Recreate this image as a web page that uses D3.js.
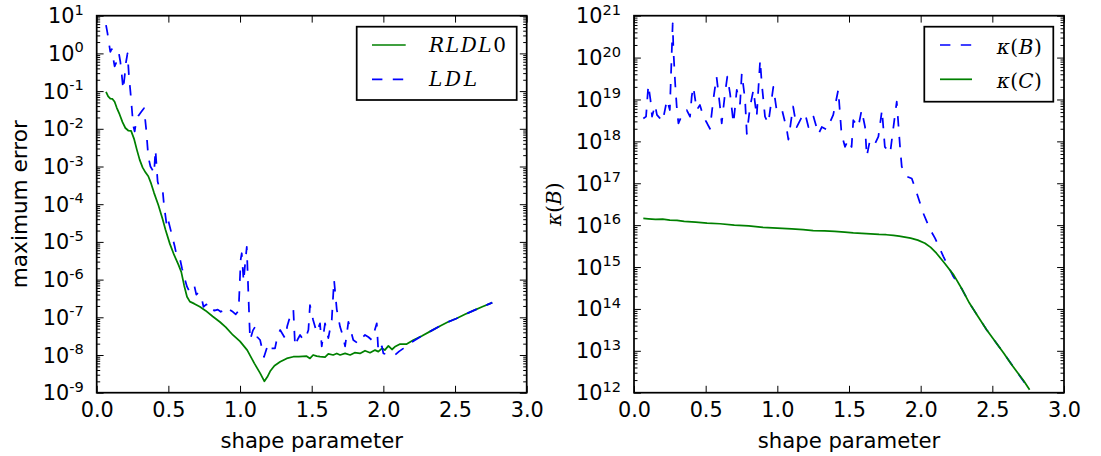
<!DOCTYPE html>
<html><head><meta charset="utf-8">
<script src="https://cdn.jsdelivr.net/npm/d3@7"></script>
<style>
html,body{margin:0;padding:0;background:#fff;}
svg{display:block;}
</style></head>
<body>
<svg id="chart" width="1101" height="456"></svg>
<script>
// ---------------- DATA ----------------
const xTickVals = [0, 0.5, 1, 1.5, 2, 2.5, 3];
const xTickLabels = ["0.0", "0.5", "1.0", "1.5", "2.0", "2.5", "3.0"];
const leftExps = [1, 0, -1, -2, -3, -4, -5, -6, -7, -8, -9];
const rightExps = [21, 20, 19, 18, 17, 16, 15, 14, 13, 12];

// Left panel: RLDL0 (green, solid)
const rldlX = [0.065,0.08,0.095,0.11,0.125,0.14,0.16,0.18,0.20,0.22,0.24,0.26,0.28,0.30,0.32,0.34,0.36,0.38,0.40,0.43,0.46,0.48,0.51,0.54,0.57,0.59,0.61,0.63,0.65,0.68,0.72,0.76,0.81,0.86,0.90,0.95,1.00,1.05,1.10,1.14,1.17,1.19,1.21,1.24,1.28,1.326,1.372,1.41,1.465,1.488,1.51,1.535,1.558,1.593,1.616,1.65,1.675,1.698,1.733,1.768,1.80,1.837,1.872,1.907,1.942,1.965,1.99,2.01,2.035,2.06,2.08,2.117,2.163,2.21,2.268,2.33,2.396,2.45,2.51,2.57,2.628,2.69,2.76];
const rldlY = [9.6e-2,7.2e-2,6.3e-2,6.2e-2,5.2e-2,3.6e-2,2.4e-2,1.5e-2,1.05e-2,9.0e-3,8.8e-3,5.5e-3,2.8e-3,1.5e-3,9.5e-4,7.0e-4,5.5e-4,3.5e-4,2.0e-4,9.5e-5,4.0e-5,2.1e-5,9.0e-6,4.5e-6,2.5e-6,1.6e-6,7.0e-7,3.5e-7,2.6e-7,2.3e-7,1.9e-7,1.5e-7,1.05e-7,7.5e-8,5.5e-8,3.4e-8,2.3e-8,1.35e-8,6.0e-9,3.3e-9,2.0e-9,2.6e-9,3.7e-9,5.2e-9,6.6e-9,8.1e-9,9.0e-9,9.1e-9,9.3e-9,8.1e-9,1.0e-8,9.3e-9,9.0e-9,8.8e-9,1.07e-8,1.0e-8,1.1e-8,1.0e-8,1.1e-8,1.0e-8,1.15e-8,1.1e-8,1.3e-8,1.15e-8,1.35e-8,1.23e-8,1.5e-8,1.35e-8,1.74e-8,1.4e-8,1.65e-8,1.95e-8,1.95e-8,2.5e-8,3.2e-8,4.3e-8,5.9e-8,7.5e-8,9.3e-8,1.2e-7,1.5e-7,1.9e-7,2.45e-7];

// Left panel: LDL (blue, dashed)
const ldlX = [0.065,0.075,0.085,0.095,0.105,0.115,0.125,0.135,0.145,0.155,0.165,0.175,0.185,0.195,0.205,0.215,0.225,0.235,0.245,0.255,0.265,0.275,0.29,0.31,0.33,0.345,0.36,0.375,0.39,0.40,0.41,0.425,0.44,0.46,0.47,0.49,0.50,0.52,0.545,0.56,0.58,0.595,0.61,0.63,0.645,0.66,0.68,0.695,0.71,0.73,0.745,0.765,0.78,0.80,0.82,0.845,0.865,0.885,0.90,0.925,0.95,0.97,0.99,1.005,1.012,1.025,1.035,1.047,1.058,1.07,1.09,1.105,1.12,1.14,1.167,1.197,1.22,1.244,1.26,1.28,1.314,1.33,1.349,1.372,1.384,1.40,1.419,1.442,1.46,1.477,1.488,1.51,1.535,1.558,1.57,1.593,1.616,1.64,1.656,1.675,1.698,1.715,1.733,1.756,1.79,1.825,1.85,1.872,1.895,1.919,1.954,1.965,1.99,2.0,2.035,2.06,2.08,2.11,2.14,2.2,2.268,2.33,2.396,2.45,2.51,2.57,2.628,2.69,2.76];
const ldlY = [5.6,3.5,1.9,1.1,1.3,0.75,0.45,0.55,0.9,1.0,0.6,0.27,0.11,0.25,0.6,1.0,0.25,0.1,0.035,0.012,0.0085,0.015,0.022,0.028,0.035,0.01,1.8e-3,1.0e-3,8.0e-4,6.5e-4,2.8e-3,4.0e-4,2.5e-4,2.4e-4,9.0e-5,2.5e-5,3.6e-5,1.8e-5,7.4e-6,4.0e-6,3.7e-6,2.0e-6,1.2e-6,6.5e-7,5.0e-7,6.0e-7,7.2e-7,4.0e-7,4.5e-7,3.5e-7,1.9e-7,2.2e-7,1.7e-7,1.9e-7,1.5e-7,1.6e-7,1.4e-7,1.5e-7,1.3e-7,1.6e-7,1.4e-7,1.2e-7,1.5e-7,3.5e-6,5.0e-6,9.0e-7,2.5e-6,7.4e-6,4.4e-7,2.5e-8,4.5e-8,5.6e-8,3.0e-8,2.5e-8,8.9e-9,2.0e-8,1.5e-8,1.5e-8,3.0e-8,4.6e-8,2.8e-8,6.0e-8,1.05e-7,1.6e-7,1.7e-8,2.5e-8,3.4e-8,2.5e-8,3.0e-8,4.6e-8,2.1e-7,8.5e-8,4.0e-8,6.9e-8,1.7e-8,6.9e-8,2.8e-8,8.5e-8,9.8e-7,1.6e-7,5.6e-8,3.5e-8,1.7e-8,7.6e-8,2.5e-8,2.0e-8,2.8e-8,3.4e-8,3.0e-8,2.5e-8,6.9e-8,1.2e-8,1.7e-8,1.1e-8,1.0e-8,1.0e-8,1.0e-8,1.25e-8,1.5e-8,2.2e-8,3.2e-8,4.3e-8,5.9e-8,7.5e-8,9.3e-8,1.2e-7,1.5e-7,1.9e-7,2.45e-7];

// Right panel: kappa(B) (blue, dashed)
const kBX = [0.065,0.084,0.1,0.115,0.126,0.147,0.16,0.18,0.2,0.23,0.25,0.27,0.275,0.287,0.298,0.31,0.33,0.345,0.368,0.391,0.403,0.414,0.438,0.46,0.484,0.51,0.53,0.553,0.576,0.6,0.612,0.635,0.651,0.67,0.694,0.717,0.74,0.752,0.775,0.787,0.81,0.833,0.856,0.88,0.891,0.914,0.937,0.972,0.995,1.03,1.066,1.077,1.11,1.135,1.165,1.193,1.217,1.252,1.287,1.31,1.345,1.39,1.425,1.448,1.472,1.495,1.518,1.53,1.565,1.588,1.612,1.624,1.647,1.682,1.705,1.73,1.75,1.787,1.81,1.833,1.856,1.868,1.903,1.938,1.973,2.019,2.066,2.1,2.158,2.228,2.29,2.34,2.40,2.46,2.52,2.58,2.67,2.76];
const kBY = [3.5e18,3.9e18,2.2e19,9.8e18,3.9e18,7.4e18,4.3e18,3.6e18,3.0e18,9.8e18,5.6e18,6.6e20,1.5e20,2.5e19,6.8e18,2.7e18,3.9e18,4.7e18,5.6e18,3.9e18,1.2e19,2.0e19,5.6e18,7.4e18,3.9e18,2.7e18,2.0e18,9.8e18,3.5e19,6.8e18,2.7e18,1.4e19,3.5e19,1.4e19,2.7e18,1.7e19,7.9e18,4.2e19,9.8e18,1.5e18,6.8e18,1.7e19,3.9e18,8.7e19,2.5e19,3.9e18,2.7e18,2.0e19,5.6e18,6.2e18,1.9e18,1.1e18,6.8e18,2.2e18,3.5e18,4.7e18,2.2e18,3.9e18,1.5e18,2.2e18,1.9e18,4.3e18,1.7e19,1.5e18,7.4e17,1.1e18,7.4e17,3.2e18,2.2e18,5.6e18,2.2e18,4.4e17,1.1e18,8.9e17,1.3e18,5.6e18,7.4e17,5.2e17,2.2e18,8.9e18,7.4e17,2.5e17,1.45e17,1.3e17,5.8e16,1.9e16,7.9e15,4.9e15,1.8e15,5.9e14,2.9e14,1.38e14,6.6e13,3.2e13,1.66e13,8.7e12,3.2e12,1.17e12];

// Right panel: kappa(C) (green, solid)
const kCX = [0.065,0.1,0.15,0.2,0.25,0.3,0.35,0.43,0.51,0.6,0.7,0.8,0.9,1.0,1.1,1.18,1.25,1.33,1.4,1.47,1.53,1.59,1.65,1.71,1.76,1.81,1.85,1.89,1.93,1.98,2.03,2.07,2.11,2.17,2.23,2.29,2.34,2.40,2.46,2.52,2.58,2.63,2.67,2.72,2.76];
const kCY = [1.45e16,1.42e16,1.38e16,1.40e16,1.32e16,1.30e16,1.23e16,1.18e16,1.12e16,1.08e16,1.0e16,9.6e15,8.9e15,8.5e15,8.1e15,7.8e15,7.4e15,7.3e15,7.1e15,6.8e15,6.5e15,6.4e15,6.2e15,6.0e15,5.9e15,5.7e15,5.5e15,5.2e15,4.9e15,4.4e15,3.7e15,2.95e15,2.14e15,1.2e15,6.5e14,2.9e14,1.38e14,6.6e13,3.2e13,1.66e13,8.7e12,4.9e12,3.2e12,1.9e12,1.17e12];

// ---------------- DRAWING ----------------
const svg = d3.select("#chart");
const FS = 20.8, SUP = 14.6, LW = 1.74, MAJ = 6.9, MIN = 3.5;
const LABFS = 21.6;
const SANS = "'DejaVu Sans', sans-serif";
const SERIF = "'DejaVu Serif', serif";

function panel(box, yDomain, exps, series, ylabel, ylabelMath, legend) {
  const g = svg.append("g");
  const x = d3.scaleLinear().domain([0, 3]).range([box.x0, box.x1]);
  const y = d3.scaleLog().domain(yDomain).range([box.y1, box.y0]);
  const clipId = "clip" + Math.round(box.x0);
  g.append("clipPath").attr("id", clipId).append("rect")
    .attr("x", box.x0).attr("y", box.y0).attr("width", box.x1 - box.x0).attr("height", box.y1 - box.y0);

  // series
  const line = d3.line().x(d => x(d[0])).y(d => y(d[1]));
  series.forEach(s => {
    const pts = s.xs.map((v, i) => [v, s.ys[i]]);
    g.append("path").attr("d", line(pts)).attr("fill", "none")
      .attr("stroke", s.color).attr("stroke-width", LW)
      .attr("stroke-dasharray", s.dash ? "10.4,10.4" : null)
      .attr("stroke-linejoin", "round")
      .attr("clip-path", `url(#${clipId})`);
  });

  // minor ticks values
  const lo = Math.round(Math.log10(yDomain[0])), hi = Math.round(Math.log10(yDomain[1]));
  const minors = [];
  for (let k = lo; k < hi; k++) for (let m = 2; m <= 9; m++) minors.push(m * Math.pow(10, k));
  const majors = exps.map(e => Math.pow(10, e));

  const axG = g.append("g").attr("stroke", "#000");
  const xb = d3.axisBottom(x).tickValues(xTickVals).tickFormat((d, i) => xTickLabels[i])
    .tickSizeInner(-MAJ).tickSizeOuter(0).tickPadding(9.7);
  const xbG = axG.append("g").attr("transform", `translate(0,${box.y1})`).call(xb);
  xbG.selectAll("text").attr("font-family", SANS).attr("font-size", FS).attr("fill", "#000").attr("stroke", "none");
  const xt = d3.axisTop(x).tickValues(xTickVals).tickFormat("").tickSizeInner(-MAJ).tickSizeOuter(0);
  axG.append("g").attr("transform", `translate(0,${box.y0})`).call(xt);
  const yl = d3.axisLeft(y).tickValues(majors).tickFormat("").tickSizeInner(-MAJ).tickSizeOuter(0);
  axG.append("g").attr("transform", `translate(${box.x0},0)`).call(yl);
  const ylm = d3.axisLeft(y).tickValues(minors).tickFormat("").tickSizeInner(-MIN).tickSizeOuter(0);
  axG.append("g").attr("transform", `translate(${box.x0},0)`).call(ylm);
  const yr = d3.axisRight(y).tickValues(majors).tickFormat("").tickSizeInner(-MAJ).tickSizeOuter(0);
  axG.append("g").attr("transform", `translate(${box.x1},0)`).call(yr);
  const yrm = d3.axisRight(y).tickValues(minors).tickFormat("").tickSizeInner(-MIN).tickSizeOuter(0);
  axG.append("g").attr("transform", `translate(${box.x1},0)`).call(yrm);
  axG.selectAll(".domain").remove();
  axG.selectAll(".tick line").attr("stroke", "#000").attr("stroke-width", 1);

  exps.forEach(e => {
    const t = g.append("text").attr("x", box.x0 - 13).attr("y", y(Math.pow(10, e)) + 7.5)
      .attr("text-anchor", "end").attr("font-family", SANS).attr("font-size", FS).attr("fill", "#000");
    t.append("tspan").text("10");
    t.append("tspan").attr("dy", -8.5).attr("font-size", SUP).text(String(e));
  });

  g.append("rect").attr("x", box.x0).attr("y", box.y0).attr("width", box.x1 - box.x0).attr("height", box.y1 - box.y0)
    .attr("fill", "none").attr("stroke", "#000").attr("stroke-width", LW);

  g.append("text").attr("x", (box.x0 + box.x1) / 2).attr("y", 448).attr("text-anchor", "middle")
    .attr("font-family", SANS).attr("font-size", 21.2).attr("fill", "#000").text("shape parameter");

  const cy = (box.y0 + box.y1) / 2;
  const ylab = g.append("text").attr("transform", `translate(${box.ylabX},${cy}) rotate(-90)`)
    .attr("text-anchor", "middle").attr("fill", "#000");
  if (ylabelMath) {
    ylab.attr("font-family", SERIF).attr("font-size", 20);
    ylabelMath.forEach(p => ylab.append("tspan").attr("font-style", p.it ? "italic" : "normal").text(p.t));
  } else {
    ylab.attr("font-family", SANS).attr("font-size", LABFS).text(ylabel);
  }

  const lg = g.append("g");
  lg.append("rect").attr("x", legend.x).attr("y", legend.y).attr("width", legend.w).attr("height", legend.h)
    .attr("fill", "#fff").attr("stroke", "#000").attr("stroke-width", LW);
  legend.items.forEach((it, i) => {
    const ly = legend.lineY[i];
    lg.append("line").attr("x1", legend.lx1).attr("x2", legend.lx2).attr("y1", ly).attr("y2", ly)
      .attr("stroke", it.color).attr("stroke-width", LW)
      .attr("stroke-dasharray", it.dash ? "10.4,10.4" : null);
    const tx = lg.append("text").attr("x", legend.tx).attr("y", legend.textY[i])
      .attr("font-family", SERIF).attr("font-size", 20).attr("fill", "#000")
      .attr("textLength", it.len).attr("lengthAdjust", "spacing");
    it.parts.forEach(p => tx.append("tspan").attr("font-style", p.it ? "italic" : "normal").text(p.t));
  });
}

panel({x0: 96.7, x1: 526.7, y0: 15.7, y1: 392.7, ylabX: 27},
  [1e-9, 10], leftExps,
  [{xs: rldlX, ys: rldlY, color: "#008000", dash: false},
   {xs: ldlX, ys: ldlY, color: "#0000ff", dash: true}],
  "maximum error", null,
  {x: 356.7, y: 26.7, w: 160, h: 73.3, lx1: 372, lx2: 405.7, lineY: [45, 79.3], tx: 429, textY: [52, 85.5],
   items: [
     {color: "#008000", dash: false, len: 77, parts: [{t: "RLDL", it: true}, {t: "0", it: false}]},
     {color: "#0000ff", dash: true, len: 48, parts: [{t: "LDL", it: true}]}
   ]});

panel({x0: 634, x1: 1064, y0: 15.7, y1: 392.7, ylabX: 561},
  [1e12, 1e21], rightExps,
  [{xs: kBX, ys: kBY, color: "#0000ff", dash: true},
   {xs: kCX, ys: kCY, color: "#008000", dash: false}],
  null, [{t: "κ", it: true}, {t: "(", it: false}, {t: "B", it: true}, {t: ")", it: false}],
  {x: 924.3, y: 26.7, w: 129, h: 75, lx1: 940, lx2: 972, lineY: [45, 79.3], tx: 996.7, textY: [54, 88],
   items: [
     {color: "#0000ff", dash: true, len: 45, parts: [{t: "κ", it: true}, {t: "(", it: false}, {t: "B", it: true}, {t: ")", it: false}]},
     {color: "#008000", dash: false, len: 45, parts: [{t: "κ", it: true}, {t: "(", it: false}, {t: "C", it: true}, {t: ")", it: false}]}
   ]});
</script>
</body></html>
